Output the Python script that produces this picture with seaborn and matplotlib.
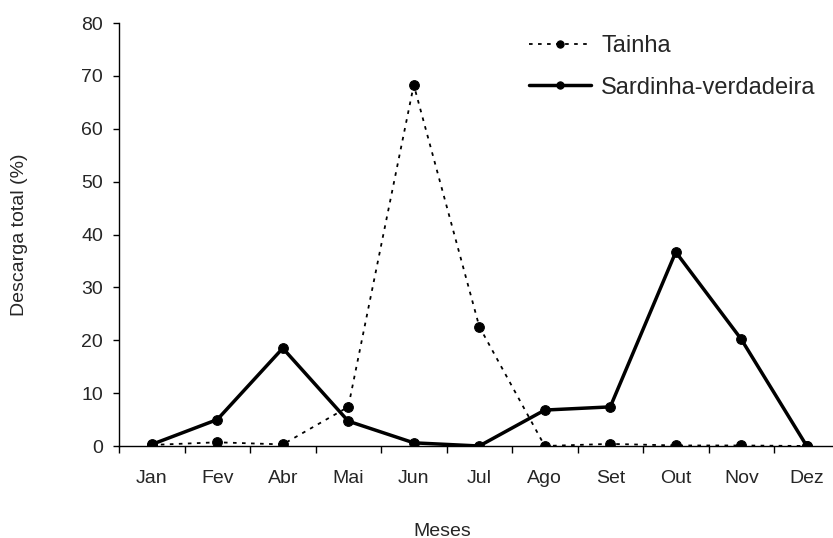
import matplotlib
matplotlib.use("Agg")
import matplotlib.pyplot as plt
import seaborn as sns
import numpy as np

meses = ['Jan', 'Fev', 'Abr', 'Mai', 'Jun', 'Jul', 'Ago', 'Set', 'Out', 'Nov', 'Dez']
tainha = [0.2, 0.7, 0.3, 7.4, 68.3, 22.6, 0.0, 0.4, 0.1, 0.1, 0.0]
sardinha = [0.3, 5.0, 18.5, 4.7, 0.6, 0.0, 6.8, 7.4, 36.7, 20.2, 0.0]

sns.set_style("white")
plt.rcParams['font.family'] = ['Liberation Sans', 'DejaVu Sans']

fig = plt.figure(figsize=(8.33, 5.38), dpi=100)
ax = fig.add_axes([0.1429, 0.171, 0.8649, 0.786])

pos = np.arange(len(meses))
sns.lineplot(x=pos, y=tainha, ax=ax, color='black', linewidth=1.3,
             linestyle=(0, (2, 3)), marker='o', markersize=7,
             markeredgecolor='black', label='Tainha')
sns.lineplot(x=pos, y=sardinha, ax=ax, color='black', linewidth=2.5,
             marker='o', markersize=7, markeredgecolor='black',
             label='Sardinha-verdadeira')

ax.set_xlim(-0.5, len(meses) - 0.5)
ax.set_ylim(0, 80)
ax.set_yticks(range(0, 81, 10))
ax.set_xticks(pos)
ax.set_xticklabels(meses)
ax.set_xticks(np.arange(-0.5, len(meses), 1), minor=True)

for s in ['top', 'right']:
    ax.spines[s].set_visible(False)
for s in ['left', 'bottom']:
    ax.spines[s].set_color('black')
    ax.spines[s].set_linewidth(1.0)

ax.tick_params(axis='y', which='major', direction='out', length=4.5, width=1,
               color='black', left=True, labelsize=14, pad=7)
ax.tick_params(axis='x', which='major', length=0, labelsize=14, pad=17)
ax.tick_params(axis='x', which='minor', direction='out', length=5, width=1,
               color='black', bottom=True)

ax.set_ylabel('Descarga total (%)', fontsize=14)
ax.yaxis.set_label_coords(-0.127, 0.5)
ax.set_xlabel('Meses', fontsize=14)
ax.xaxis.set_label_coords(0.448, -0.181)

ax.legend(loc='upper left', bbox_to_anchor=(0.540, 1.022), frameon=False,
          fontsize=17, handlelength=2.6, labelspacing=0.83, handletextpad=0.45,
          markerscale=0.75)

fig.savefig('out.png', dpi=100)
